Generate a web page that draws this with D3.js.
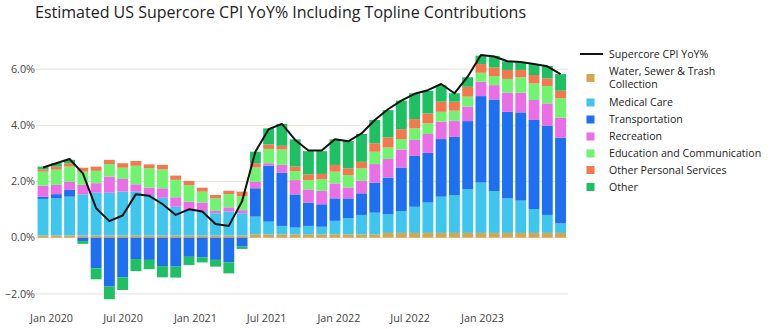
<!DOCTYPE html>
<html>
<head>
<meta charset="utf-8">
<script src="https://cdn.jsdelivr.net/npm/d3@7/dist/d3.min.js"></script>
<style>
  html, body { margin: 0; padding: 0; background: #ffffff; }
  svg { display: block; font-family: "Open Sans", "Noto Sans", sans-serif; }
</style>
</head>
<body>
<div id="chart"></div>
<script>
// Monthly contributions (percentage points) to supercore CPI YoY
const months = [
    '2020-01', '2020-02', '2020-03', '2020-04', '2020-05', '2020-06', '2020-07', '2020-08',
    '2020-09', '2020-10', '2020-11', '2020-12', '2021-01', '2021-02', '2021-03', '2021-04',
    '2021-05', '2021-06', '2021-07', '2021-08', '2021-09', '2021-10', '2021-11', '2021-12',
    '2022-01', '2022-02', '2022-03', '2022-04', '2022-05', '2022-06', '2022-07', '2022-08',
    '2022-09', '2022-10', '2022-11', '2022-12', '2023-01', '2023-02', '2023-03', '2023-04'
];

const water = [
    0.08, 0.08, 0.08, 0.08, 0.08, 0.08, 0.08, 0.08, 0.08, 0.08, 0.08, 0.08, 0.08, 0.08, 0.08, 0.08,
    0.12, 0.12, 0.12, 0.12, 0.12, 0.12, 0.12, 0.12, 0.12, 0.12,
    0.17, 0.17, 0.17, 0.17, 0.17, 0.17, 0.17, 0.17, 0.17, 0.17, 0.17, 0.17, 0.17, 0.17
];
const medical = [
    1.30, 1.32, 1.38, 1.46, 1.52, 1.52, 1.56, 1.56, 1.44, 1.34, 1.02, 0.88, 0.87, 0.79, 0.85, 0.79,
    0.63, 0.45, 0.30, 0.24, 0.30, 0.27, 0.48, 0.57, 0.69, 0.77,
    0.67, 0.78, 0.93, 1.08, 1.29, 1.35, 1.55, 1.79, 1.49, 1.23, 1.15, 0.85, 0.64, 0.34
];
const transportation = [
    0.08, 0.15, 0.24, -0.12, -1.09, -1.74, -1.41, -0.76, -0.79, -1.01, -1.03, -0.68, -0.70, -0.79, -0.88, -0.32,
    1.01, 1.99, 1.89, 1.18, 0.83, 0.80, 0.80, 0.71, 0.77, 1.07,
    1.30, 1.55, 1.81, 1.77, 2.05, 2.07, 2.43, 3.08, 3.26, 3.08, 3.14, 3.17, 3.18, 3.05
];
const recreation = [
    0.39, 0.33, 0.29, 0.34, 0.34, 0.57, 0.45, 0.26, 0.26, 0.34, 0.34, 0.32, 0.30, 0.08, 0.15, 0.11,
    0.23, 0.09, 0.28, 0.51, 0.47, 0.48, 0.53, 0.39, 0.45, 0.66,
    0.66, 0.64, 0.57, 0.67, 0.62, 0.57, 0.51, 0.51, 0.51, 0.68, 0.70, 0.71, 0.79, 0.71
];
const education = [
    0.50, 0.54, 0.54, 0.47, 0.44, 0.45, 0.40, 0.66, 0.69, 0.67, 0.62, 0.59, 0.39, 0.45, 0.47, 0.50,
    0.51, 0.51, 0.55, 0.32, 0.33, 0.41, 0.42, 0.44, 0.44, 0.44,
    0.41, 0.37, 0.41, 0.38, 0.35, 0.36, 0.36, 0.32, 0.32, 0.49, 0.55, 0.59, 0.62, 0.69
];
const otherPersonal = [
    0.08, 0.11, 0.12, 0.14, 0.15, 0.15, 0.16, 0.17, 0.14, 0.16, 0.15, 0.15, 0.14, 0.12, 0.12, 0.16,
    0.15, 0.16, 0.13, 0.16, 0.20, 0.19, 0.24, 0.24, 0.23, 0.30,
    0.36, 0.35, 0.33, 0.35, 0.36, 0.32, 0.35, 0.31, 0.31, 0.32, 0.26, 0.30, 0.27, 0.27
];
const other = [
    0.10, 0.12, 0.12, -0.10, -0.39, -0.45, -0.45, -0.43, -0.33, -0.40, -0.39, -0.29, -0.18, -0.24, -0.39, -0.08,
    0.41, 0.57, 0.78, 0.97, 0.83, 0.81, 0.91, 0.97, 0.99, 0.83,
    0.97, 1.02, 0.92, 0.81, 0.59, 0.30, 0.34, 0.30, 0.41, 0.31, 0.28, 0.39, 0.44, 0.59
];
const supercore = [
    2.50, 2.65, 2.80, 2.29, 1.05, 0.59, 0.79, 1.55, 1.49, 1.20, 0.81, 1.01, 0.93, 0.49, 0.42, 1.30,
    3.06, 3.86, 4.05, 3.48, 3.10, 3.10, 3.50, 3.43, 3.71, 4.19,
    4.57, 4.88, 5.12, 5.25, 5.47, 5.14, 5.73, 6.50, 6.45, 6.28, 6.25, 6.18, 6.10, 5.82
];

const seriesNames = [
    'Water, Sewer & Trash Collection', 'Medical Care', 'Transportation', 'Recreation',
    'Education and Communication', 'Other Personal Services', 'Other'
];
const seriesColors = ['#d6a64c', '#3fc6ee', '#1f6ff1', '#ea6ee6', '#70f470', '#f4784d', '#1fc064'];
const yTicks = [-2, 0, 2, 4, 6];

const width = 772, height = 329;

const svg = d3.select('#chart').append('svg')
    .attr('width', width)
    .attr('height', height);

svg.append('text')
    .attr('x', 35)
    .attr('y', 18)
    .attr('font-size', '16px')
    .attr('fill', '#222')
    .text('Estimated US Supercore CPI YoY% Including Topline Contributions');

// rows for the stack
const valueArrays = [water, medical, transportation, recreation, education, otherPersonal, other];
const rows = months.map((m, i) => {
    const row = { month: m };
    seriesNames.forEach((name, k) => { row[name] = valueArrays[k][i]; });
    return row;
});

const stacked = d3.stack()
    .keys(seriesNames)
    .offset(d3.stackOffsetDiverging)(rows);

const x = d3.scaleBand()
    .domain(months)
    .range([36.4, 567.2])
    .paddingInner(0.18)
    .paddingOuter(0.09);

const y = d3.scaleLinear()
    .domain([-2, 6])
    .range([293.9, 69.1]);

// date axis for the tick labels
const xTime = d3.scaleTime()
    .domain([new Date(2020, 0, 1), new Date(2023, 0, 1)])
    .range([51, 482]);

// gridlines
svg.append('g')
    .selectAll('line')
    .data(yTicks)
    .join('line')
    .attr('x1', 36)
    .attr('x2', 568)
    .attr('y1', d => y(d))
    .attr('y2', d => y(d))
    .attr('stroke', '#e6e1da')
    .attr('stroke-width', 1);

svg.append('g')
    .selectAll('text')
    .data(yTicks)
    .join('text')
    .attr('x', 35)
    .attr('y', d => y(d))
    .attr('dy', '0.35em')
    .attr('text-anchor', 'end')
    .attr('font-size', '10.8px')
    .attr('fill', '#444')
    .text(d => d3.format('.1f')(d).replace('-', '\u2212') + '%');

const xAxis = svg.append('g')
    .attr('transform', 'translate(0,' + 314 + ')')
    .call(d3.axisBottom(xTime)
        .ticks(d3.timeMonth.every(6))
        .tickFormat(d3.timeFormat('%b %Y'))
        .tickSize(0)
        .tickPadding(0));
xAxis.select('.domain').remove();
xAxis.selectAll('text')
    .attr('font-family', '"Open Sans", sans-serif')
    .attr('font-size', '10.8px')
    .attr('fill', '#444')
    .attr('dy', '0.71em');

// stacked bars
const layers = svg.append('g')
    .selectAll('g')
    .data(stacked)
    .join('g')
    .attr('fill', (d, i) => seriesColors[i]);

layers.selectAll('rect')
    .data(d => d)
    .join('rect')
    .attr('x', d => x(d.data.month))
    .attr('width', x.bandwidth())
    .attr('y', d => y(Math.max(d[0], d[1])))
    .attr('height', d => Math.abs(y(d[0]) - y(d[1])));

// supercore line
const line = d3.line()
    .x((d, i) => x(months[i]) + x.bandwidth() / 2)
    .y(d => y(d));

svg.append('path')
    .datum(supercore)
    .attr('fill', 'none')
    .attr('stroke', '#111')
    .attr('stroke-width', 2)
    .attr('stroke-linejoin', 'round')
    .attr('d', line);

// legend
const legend = svg.append('g')
    .attr('font-size', '10.6px')
    .attr('fill', '#222');

legend.append('line')
    .attr('x1', 580).attr('x2', 603)
    .attr('y1', 54).attr('y2', 54)
    .attr('stroke', '#111')
    .attr('stroke-width', 2);
legend.append('text')
    .attr('x', 609).attr('y', 54).attr('dy', '0.35em')
    .text('Supercore CPI YoY%');

const legendRows = [
    { lines: ['Water, Sewer & Trash', 'Collection'], y: 78 },
    { lines: ['Medical Care'], y: 102.5 },
    { lines: ['Transportation'], y: 119.5 },
    { lines: ['Recreation'], y: 136.5 },
    { lines: ['Education and Communication'], y: 153.5 },
    { lines: ['Other Personal Services'], y: 170 },
    { lines: ['Other'], y: 187 }
];

legendRows.forEach((r, i) => {
    legend.append('rect')
        .attr('x', 586.5).attr('y', r.y - 4)
        .attr('width', 8).attr('height', 8)
        .attr('fill', seriesColors[i]);
    const top = r.y - (r.lines.length - 1) * 6.7;
    r.lines.forEach((s, k) => {
        legend.append('text')
            .attr('x', 609)
            .attr('y', top + k * 13.4)
            .attr('dy', '0.35em')
            .text(s);
    });
});
</script>
</body>
</html>
